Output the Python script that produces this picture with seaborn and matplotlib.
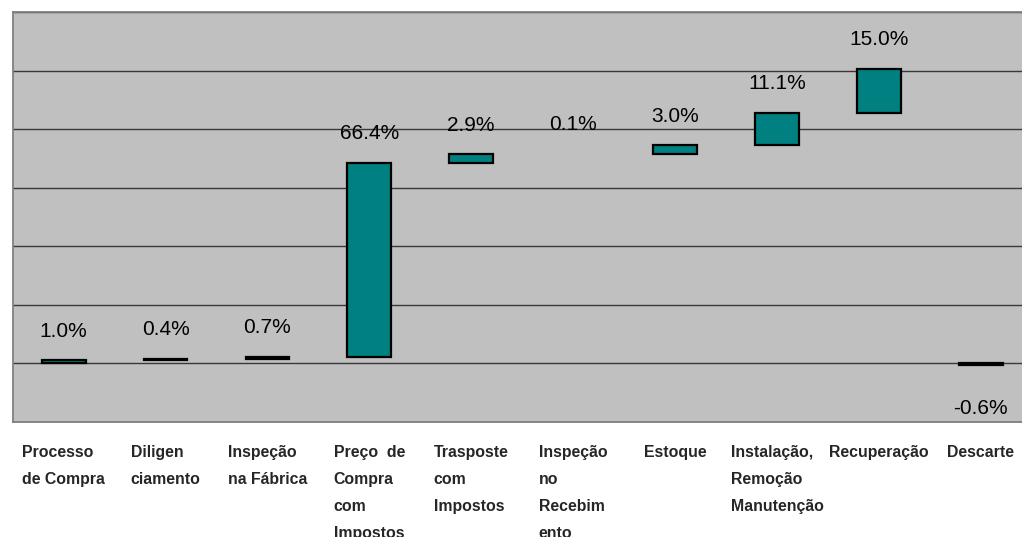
import numpy as np
import pandas as pd
import seaborn as sns
import matplotlib.pyplot as plt

# Cost breakdown (waterfall), share of total cost in %
categories = ["Processo\nde Compra", "Diligen\nciamento", "Inspeção\nna Fábrica",
              "Preço  de\nCompra\ncom\nImpostos", "Trasposte\ncom\nImpostos",
              "Inspeção\nno\nRecebim\nento", "Estoque",
              "Instalação,\nRemoção\nManutenção", "Recuperação", "Descarte"]
shares = [1.0, 0.4, 0.7, 66.4, 2.9, 0.1, 3.0, 11.1, 15.0, -0.6]

# Floating bars: each step starts where the previous one ended,
# the last one (Descarte) hangs from the baseline
steps = np.array(shares[:-1])
starts = list(np.cumsum(steps) - steps) + [0.0]

df = pd.DataFrame({'etapa': categories, 'valor': shares, 'inicio': starts})

sns.set_style('white')
plt.rcParams['font.family'] = ['Liberation Sans', 'DejaVu Sans']

fig = plt.figure(figsize=(10.22, 5.37), dpi=100)
ax = fig.add_axes([0.0124, 0.2147, 0.9971, 0.7624])

sns.barplot(data=df, x='etapa', y='valor', bottom=df['inicio'], ax=ax,
            color='#008080', saturation=1, width=0.43,
            edgecolor='black', linewidth=1.6)

# steps too small to show a box are left out of the outline
for patch, v in zip(ax.patches, shares):
    if abs(v) < 0.2:
        patch.set_linewidth(0)

ax.set_facecolor('#C0C0C0')
ax.set_xlim(-0.5, 9.5)
ax.set_ylim(-20, 120)
ax.set_yticks(range(-20, 121, 20))
ax.set_yticklabels([])
ax.tick_params(axis='y', length=0)
ax.grid(axis='y', color='#383838', linewidth=1.0)
ax.set_axisbelow(True)
for s in ax.spines.values():
    s.set_color('#808080')
    s.set_linewidth(1.3)

ax.set_xlabel('')
ax.set_ylabel('')
ax.set_xticks(range(len(categories)))
ax.set_xticklabels(categories, fontsize=11.4, fontweight='bold',
                   linespacing=2.0, multialignment='left')
ax.tick_params(axis='x', length=0, pad=16.5)

for i, (v, b) in enumerate(zip(shares, starts)):
    end = b + v
    off = 21 if v >= 0 else -31
    ax.annotate(f'{v:.1f}%', (i, end), xytext=(0, off), textcoords='offset points',
                ha='center', va='center', fontsize=15, color='black')

fig.savefig('out.png', dpi=100, facecolor='white')
